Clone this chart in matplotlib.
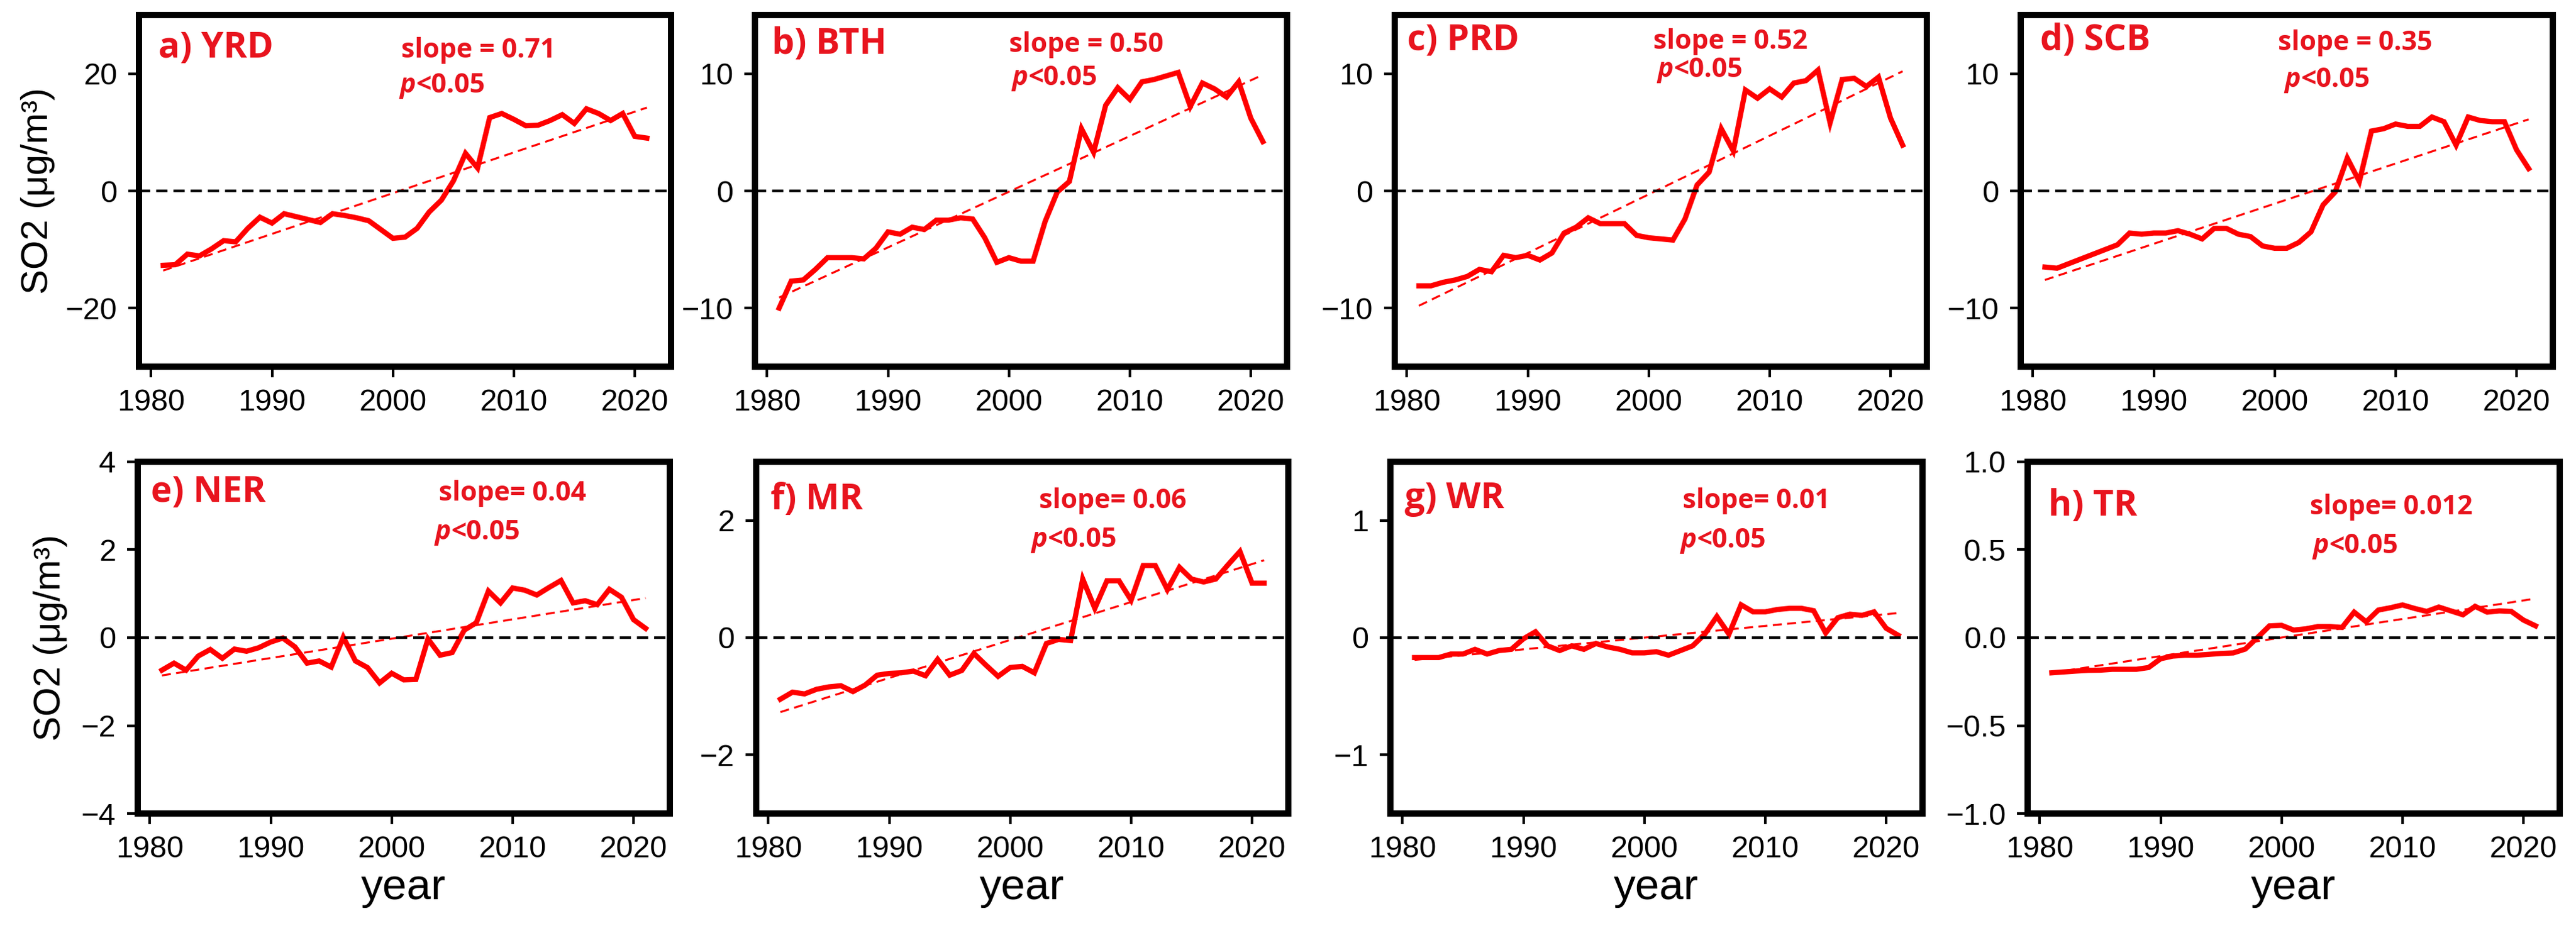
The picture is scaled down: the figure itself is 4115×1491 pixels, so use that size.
import numpy as np
import matplotlib
matplotlib.use('Agg')
import matplotlib.pyplot as plt

# ---- data (annual SO2 anomalies) ----
years = np.arange(1981, 2022)

yrd = [-12.7, -12.6, -10.8, -11.1, -9.9, -8.5, -8.7, -6.4, -4.5, -5.5,
       -3.9, -4.4, -4.9, -5.4, -3.9, -4.2, -4.6, -5.1, -6.6, -8.1,
       -7.9, -6.4, -3.6, -1.6, 1.7, 6.4, 3.9, 12.5, 13.2, 12.2,
       11.1, 11.2, 12.0, 13.0, 11.5, 14.0, 13.2, 12.0, 13.2, 9.3, 9.0]
bth = [-10.0, -7.7, -7.6, -6.7, -5.7, -5.7, -5.7, -5.8, -4.9, -3.5,
       -3.7, -3.1, -3.3, -2.5, -2.5, -2.3, -2.4, -4.0, -6.1, -5.7,
       -6.0, -6.0, -2.6, -0.1, 0.8, 5.3, 3.3, 7.3, 8.8, 7.8,
       9.3, 9.5, 9.8, 10.1, 7.2, 9.2, 8.7, 8.0, 9.3, 6.2, 4.2]
prd = [-8.1, -8.1, -7.8, -7.6, -7.3, -6.7, -6.9, -5.5, -5.7, -5.5,
       -5.9, -5.3, -3.6, -3.1, -2.3, -2.8, -2.8, -2.8, -3.8, -4.0,
       -4.1, -4.2, -2.4, 0.5, 1.6, 5.3, 3.4, 8.6, 7.9, 8.7,
       8.0, 9.2, 9.4, 10.3, 5.8, 9.5, 9.6, 8.9, 9.7, 6.2, 3.9]
scb = [-6.5, -6.6, -6.2, -5.8, -5.4, -5.0, -4.6, -3.6, -3.7, -3.6,
       -3.6, -3.4, -3.7, -4.1, -3.2, -3.2, -3.7, -3.9, -4.7, -4.9,
       -4.9, -4.4, -3.5, -1.2, -0.1, 2.8, 0.8, 5.1, 5.3, 5.7,
       5.5, 5.5, 6.3, 5.9, 3.9, 6.3, 6.0, 5.9, 5.9, 3.5, 1.9]
ner = [-0.74, -0.58, -0.74, -0.42, -0.27, -0.47, -0.26, -0.31, -0.23, -0.10,
       -0.01, -0.21, -0.58, -0.53, -0.67, 0.01, -0.53, -0.68, -1.03, -0.81,
       -0.96, -0.95, -0.03, -0.40, -0.34, 0.17, 0.34, 1.06, 0.79, 1.13,
       1.08, 0.97, 1.14, 1.30, 0.79, 0.84, 0.75, 1.10, 0.92, 0.41, 0.21]
mr = [-1.05, -0.93, -0.96, -0.88, -0.84, -0.82, -0.92, -0.81, -0.64, -0.61,
      -0.60, -0.57, -0.65, -0.37, -0.64, -0.56, -0.27, -0.47, -0.66, -0.51,
      -0.49, -0.60, -0.10, -0.03, -0.05, 1.00, 0.50, 0.97, 0.97, 0.64,
      1.23, 1.23, 0.82, 1.20, 1.00, 0.95, 1.00, 1.24, 1.47, 0.93, 0.93]
wr = [-0.17, -0.17, -0.17, -0.14, -0.14, -0.10, -0.14, -0.11, -0.10, -0.01,
      0.05, -0.07, -0.11, -0.07, -0.10, -0.05, -0.08, -0.10, -0.13, -0.13,
      -0.12, -0.15, -0.11, -0.07, 0.03, 0.18, 0.03, 0.28, 0.22, 0.22,
      0.24, 0.25, 0.25, 0.23, 0.04, 0.17, 0.20, 0.19, 0.22, 0.08, 0.02]
tr = [-0.200, -0.195, -0.190, -0.186, -0.185, -0.180, -0.180, -0.180, -0.170, -0.120,
      -0.105, -0.100, -0.100, -0.095, -0.090, -0.087, -0.065, 0.000, 0.067, 0.070,
      0.043, 0.050, 0.063, 0.063, 0.058, 0.145, 0.090, 0.157, 0.170, 0.186,
      0.166, 0.149, 0.174, 0.152, 0.130, 0.178, 0.145, 0.152, 0.149, 0.100, 0.067]

series = [yrd, bth, prd, scb, ner, mr, wr, tr]
titles = ['a) YRD', 'b) BTH', 'c) PRD', 'd) SCB', 'e) NER', 'f) MR', 'g) WR', 'h) TR']
slope_texts = ['slope = 0.71', 'slope = 0.50', 'slope = 0.52', 'slope = 0.35',
               'slope= 0.04', 'slope= 0.06', 'slope= 0.01', 'slope= 0.012']
# linear trend line, value at 1981 and at 2021
trend_start = [-13.6, -9.1, -9.8, -7.6, -0.86, -1.27, -0.19, -0.20]
trend_end = [14.2, 9.9, 10.2, 6.1, 0.90, 1.32, 0.21, 0.222]
ylims = [30, 15, 15, 15, 4, 3, 1.5, 1.0]
yticks = [[-20, 0, 20], [-10, 0, 10], [-10, 0, 10], [-10, 0, 10],
          [-4, -2, 0, 2, 4], [-2, 0, 2], [-1, 0, 1], [-1.0, -0.5, 0.0, 0.5, 1.0]]

# ---- layout (pixels of the 4115 x 1491 canvas) ----
W, H = 4115, 1491
lefts = [222, 1206, 2228, 3228, 220, 1208, 2221, 3239]
tops = [24, 24, 24, 24, 738, 738, 738, 738]
aw, ah = 850, 562
# annotation anchors in axes fraction: (label x, label y, slope x, slope y, p x, p y)
ann = [(0.037, 0.879, 0.493, 0.879, 0.490, 0.779),
       (0.032, 0.890, 0.478, 0.895, 0.483, 0.800),
       (0.024, 0.900, 0.486, 0.904, 0.493, 0.824),
       (0.036, 0.900, 0.483, 0.900, 0.496, 0.795),
       (0.025, 0.886, 0.566, 0.890, 0.558, 0.780),
       (0.027, 0.865, 0.532, 0.868, 0.517, 0.758),
       (0.027, 0.868, 0.550, 0.868, 0.545, 0.757),
       (0.039, 0.847, 0.530, 0.850, 0.536, 0.740)]

RED = '#ff0000'
TXT_RED = '#e8141e'
plt.rcParams['font.family'] = ['Liberation Sans', 'DejaVu Sans']

fig = plt.figure(figsize=(W / 100, H / 100), dpi=100)

for i, vals in enumerate(series):
    ax = fig.add_axes([lefts[i] / W, 1 - (tops[i] + ah) / H, aw / W, ah / H])
    ax.plot(years, vals, color=RED, lw=6, solid_joinstyle='miter')
    ax.plot([years[0], years[-1]], [trend_start[i], trend_end[i]],
            color=RED, lw=2.3, dashes=(4.5, 2.7))
    ax.axhline(0, color='black', lw=3, dashes=(4.3, 2.3))

    ax.set_xlim(1979, 2023)
    ax.set_ylim(-ylims[i], ylims[i])
    ax.set_xticks([1980, 1990, 2000, 2010, 2020])
    ax.set_yticks(yticks[i])
    if i == 7:
        ax.set_yticklabels(['\u22121.0', '\u22120.5', '0.0', '0.5', '1.0'])
    ax.tick_params(direction='out', length=12, width=3, pad=13, labelsize=35)
    for sp in ax.spines.values():
        sp.set_linewidth(7.2)

    lx, ly, sx, sy, px, py = ann[i]
    ax.text(lx, ly, titles[i], transform=ax.transAxes, color=TXT_RED,
            fontsize=41, fontweight='bold', family=['Open Sans', 'DejaVu Sans'])
    ax.text(sx, sy, slope_texts[i], transform=ax.transAxes, color=TXT_RED,
            fontsize=31, fontweight='bold', family=['Open Sans', 'DejaVu Sans'])
    pt = ax.text(px, py, 'p', transform=ax.transAxes, color=TXT_RED,
                 fontsize=31, fontweight='bold', fontstyle='italic',
                 family=['Open Sans', 'DejaVu Sans'])
    ax.annotate('<0.05', xy=(1.0, 0.0), xycoords=pt, color=TXT_RED,
                fontsize=31, fontweight='bold', va='bottom',
                family=['Open Sans', 'DejaVu Sans'])

    if i in (0, 4):
        ax.set_ylabel('SO2 (\u03bcg/m\u00b3)', fontsize=43)
        ax.yaxis.set_label_coords(-0.158 if i == 0 else -0.132, 0.5)
    if i >= 4:
        ax.set_xlabel('year', fontsize=50)
        ax.xaxis.set_label_coords(0.5, -0.155)

fig.savefig('out.png', dpi=100)
